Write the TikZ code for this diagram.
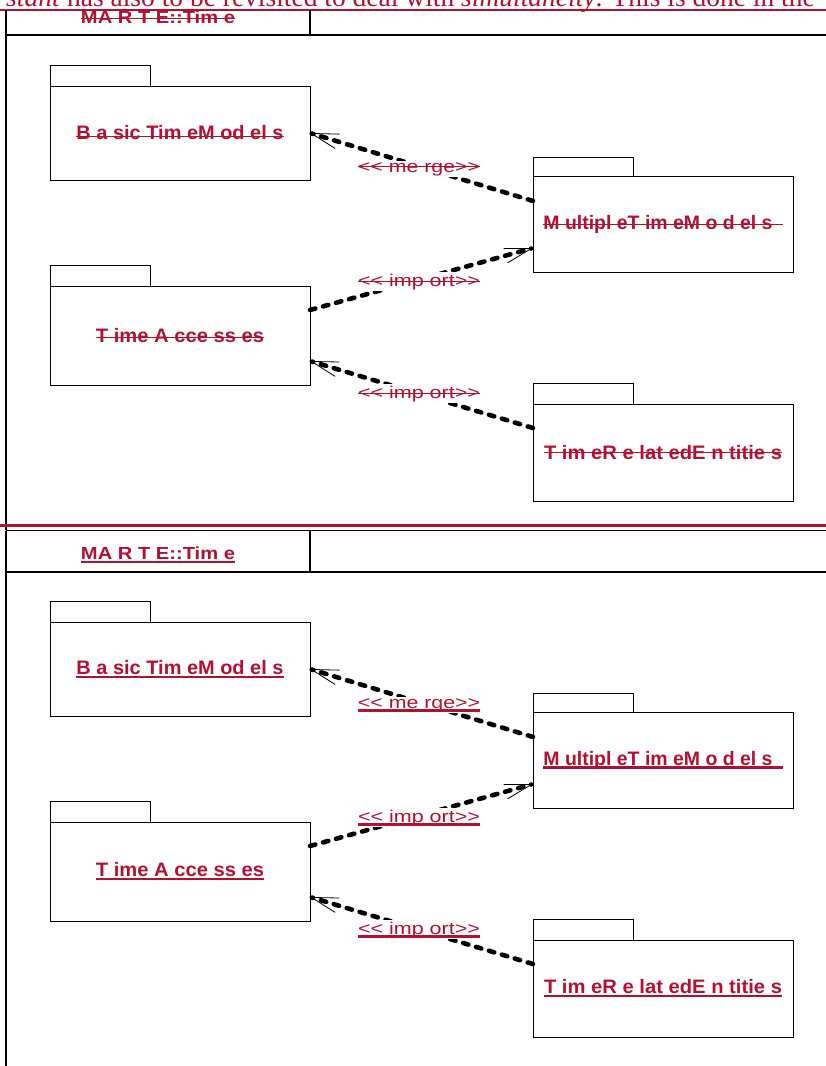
\documentclass[tikz,border=0pt]{standalone}
\usepackage{fontspec}
\usepackage{graphicx}
\setmainfont{Liberation Serif}
\newfontfamily\sansf{Liberation Sans}
\usetikzlibrary{arrows.meta,calc}
\definecolor{dred}{RGB}{180,16,50}
\newcommand\fitw[2]{\resizebox{#1}{\height}{#2}}
\newcommand\stk[2][4pt]{{\setbox0\hbox{#2}\rlap{\copy0}\rule[#1]{\wd0}{0.9pt}}}
\newcommand\und[1]{{\setbox0\hbox{#1}\rlap{\copy0}\rule[-3.6pt]{\wd0}{2.2pt}}}
\newcommand\pkgf{\sansf\bfseries\fontsize{19.5}{23}\selectfont}
\newcommand\ttlf{\sansf\bfseries\fontsize{17.5}{21}\selectfont}
\newcommand\lblf{\sansf\fontsize{17}{20}\selectfont}
\newcommand\pkgdraw[6]{%
  \node[pkgbody,minimum height=#4] (#1) at (#2,#3) {#6};
  \draw[pkgl] (#1.north west) rectangle ++(100,-#5);}
\begin{document}
\begin{tikzpicture}[x=1pt,y=-1pt,
  frm/.style={line width=1.3pt},
  pkgl/.style={line width=1pt},
  pkgbody/.style={draw,line width=1pt,minimum width=260pt,inner sep=0pt,outer sep=0pt,anchor=north west,text=dred,font=\pkgf},
  dep/.style={line width=4.6pt,dash pattern=on 5.5pt off 8pt,line cap=round,-{Straight Barb[length=27pt,width=15pt,line width=0.8pt]}},
  lbl/.style={fill=white,inner sep=1.5pt,text=dred,font=\lblf,anchor=base},
  ttl/.style={text=dred,font=\ttlf,anchor=base,inner sep=0pt},
  redl/.style={draw=dred,line width=2.4pt}]
\useasboundingbox (0,0) rectangle (826,1066);
\clip (0,0) rectangle (826,1066);
% paragraph line at top (cut by the top edge, as in the reference)
\node[anchor=base east,text=dred,font=\fontsize{27.5}{33}\selectfont,inner sep=0pt] (para) at (815,6.5)
  {\raisebox{0pt}[\height][0pt]{\textit{stant} has also to be revisited to deal with \textit{simultaneity}. This is done in the}};
\draw[redl] (0,10) -- (826,10);
% ---------- top frame ----------
\draw[frm] (6,10) -- (6,530);
\draw[frm] (310,10) -- (310,35);
\draw[frm] (6,35) -- (826,35);
\node[ttl] (t1) at (158,23.3) {\stk[4.3pt]{\fitw{154pt}{MA R T E::Tim e}}};
\pkgdraw{bt1}{50}{86}{94}{21}{\stk[2.7pt]{\fitw{207pt}{B a sic Tim eM od el s}}}
\pkgdraw{mt1}{533}{176}{96}{19}{\stk[4pt]{\fitw{229pt}{M ultipl eT im eM o d el s}\hspace{10pt}}}
\pkgdraw{ta1}{50}{286}{99}{21}{\stk[5pt]{\fitw{168pt}{T ime A cce ss es}}}
\pkgdraw{tr1}{533}{404}{97}{21}{\stk[7pt]{\fitw{238pt}{T im eR e lat edE n titie s}}}
\draw[dep] ($(mt1.north west)+(0,25)$) -- ($(bt1.north east)+(0,47)$);
\draw[dep] ($(ta1.north east)+(0,24)$) -- ($(mt1.north west)+(0,72)$);
\draw[dep] ($(tr1.north west)+(0,24)$) -- ($(ta1.north east)+(0,75)$);
\node[lbl] (m1) at (419,172) {\stk[5pt]{\fitw{122pt}{<< me rge>>}}};
\node[lbl] (i1) at (419,286) {\stk[4.5pt]{\fitw{122pt}{<< imp ort>>}}};
\node[lbl] (j1) at (419,398) {\stk[4.5pt]{\fitw{122pt}{<< imp ort>>}}};
% ---------- separator ----------
\draw[redl] (0,525.5) -- (826,525.5);
% ---------- bottom frame ----------
\draw[frm] (6,530.5) -- (826,530.5);
\draw[frm] (6,530.5) -- (6,1066);
\draw[frm] (310,530.5) -- (310,572);
\draw[frm] (6,572) -- (826,572);
\node[ttl] (t2) at (158,559.3) {\und{\fitw{154pt}{MA R T E::Tim e}}};
\pkgdraw{bt2}{50}{622}{94}{21}{\und{\fitw{207pt}{B a sic Tim eM od el s}}}
\pkgdraw{mt2}{533}{712}{96}{19}{\und{\fitw{229pt}{M ultipl eT im eM o d el s}\hspace{10pt}}}
\pkgdraw{ta2}{50}{822}{99}{21}{\und{\fitw{168pt}{T ime A cce ss es}}}
\pkgdraw{tr2}{533}{940}{97}{21}{\und{\fitw{238pt}{T im eR e lat edE n titie s}}}
\draw[dep] ($(mt2.north west)+(0,25)$) -- ($(bt2.north east)+(0,47)$);
\draw[dep] ($(ta2.north east)+(0,24)$) -- ($(mt2.north west)+(0,72)$);
\draw[dep] ($(tr2.north west)+(0,24)$) -- ($(ta2.north east)+(0,75)$);
\node[lbl] (m2) at (419,708) {\und{\fitw{122pt}{<< me rge>>}}};
\node[lbl] (i2) at (419,822) {\und{\fitw{122pt}{<< imp ort>>}}};
\node[lbl] (j2) at (419,934) {\und{\fitw{122pt}{<< imp ort>>}}};
\end{tikzpicture}
\end{document}
